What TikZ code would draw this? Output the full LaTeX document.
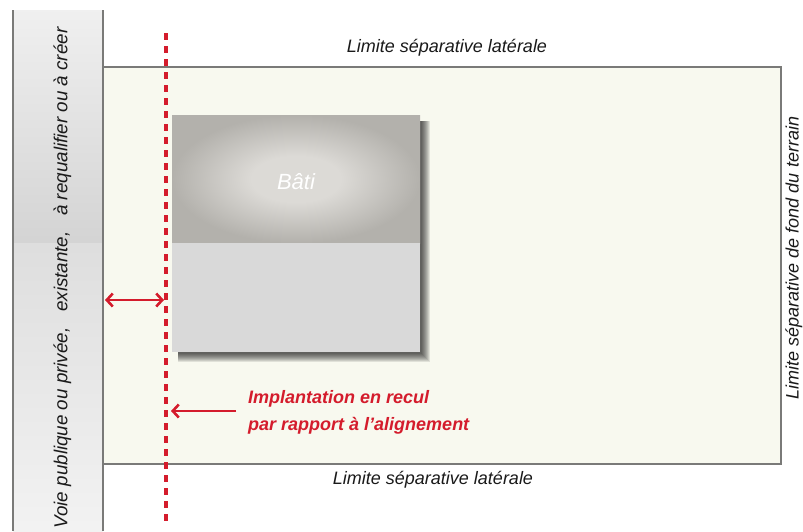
\documentclass[tikz,border=0pt]{standalone}
\usepackage{fontspec}
\setmainfont{Liberation Sans}
\usetikzlibrary{arrows.meta}
\definecolor{redc}{HTML}{D41C2C}
\definecolor{cream}{HTML}{F8F9EF}
\definecolor{frame}{HTML}{7A7A78}
\definecolor{txt}{HTML}{1A1A1A}
\definecolor{batiin}{HTML}{DCDAD6}
\definecolor{batiout}{HTML}{B3B1AC}
\pgfdeclareradialshading{batishade}{\pgfpoint{0bp}{0bp}}{color(0bp)=(batiin); color(9bp)=(batiin); color(25bp)=(batiout); color(50bp)=(batiout)}
\tikzset{
  lbl/.style={font=\fontsize{18}{20}\selectfont\itshape, text=txt, inner sep=0pt},
  redlbl/.style={font=\fontsize{18}{27}\selectfont\bfseries\itshape, text=redc, inner sep=0pt, align=left, anchor=west},
  redarrow/.style={draw=redc, line width=2.6pt},
  tipb/.tip={Straight Barb[length=6pt,width=13pt]},
}
\begin{document}
\begin{tikzpicture}[x=1pt,y=-1pt]
\useasboundingbox (0,0) rectangle (803,531);
\clip (0,0) rectangle (803,531);
\fill[white] (0,0) rectangle (803,531);
% left strip
\shade[top color=white!94!black, bottom color=white!83!black] (13,10) rectangle (103,243);
\shade[top color=white!87!black, bottom color=white!95!black] (13,243) rectangle (103,531);
\draw[frame, line width=1.2pt] (13,10) -- (13,531);
\draw[frame, line width=1.2pt] (103,10) -- (103,531);
\node[lbl, font=\fontsize{18.8}{20}\selectfont\itshape, rotate=90] (voie) at (62.5,278) {Voie publique ou privée,\ \ \ existante,\ \ \ à requalifier ou à créer};
% parcel
\fill[cream] (103,67) rectangle (781,464);
\draw[frame, line width=1.5pt] (103,67) rectangle (781,464);
\node[lbl] (top) at (447,48) {Limite séparative latérale};
\node[lbl] (bot) at (433,480) {Limite séparative latérale};
\node[lbl, rotate=90, anchor=south] (fond) at (802.5,258) {Limite séparative de fond du terrain};
% building shadow
\foreach \i in {1,...,9}{
  \fill[black, opacity=0.095] (178,121) rectangle (421+\i,353+\i);
}
\shade[shading=batishade] (172,115) rectangle (420,243);
\fill[white!85!black] (172,243) rectangle (420,352);
\node[font=\fontsize{22}{24}\selectfont\itshape, text=white, inner sep=0pt] (bati) at (296,182) {Bâti};
% dotted alignment line
\coordinate (d1) at (166,33);
\coordinate (d2) at (166,527);
\draw[redc, line width=4.6pt, dash pattern=on 7pt off 6pt] (d1) -- (d2);
% arrows
\coordinate (a1) at (105,300);
\coordinate (a2) at (164,300);
\draw[redarrow, {tipb}-{tipb}] (a1) -- (a2);
\coordinate (b1) at (236,411);
\coordinate (b2) at (171,411);
\draw[redarrow, -{tipb}] (b1) -- (b2);
\node[redlbl] (rec) at (248,412.5) {Implantation en recul\\par rapport à l'alignement};
\end{tikzpicture}
\end{document}
